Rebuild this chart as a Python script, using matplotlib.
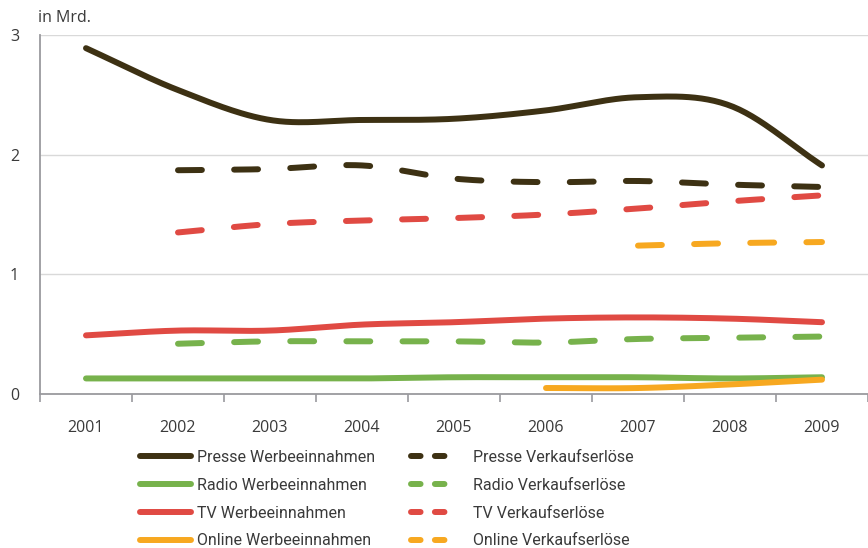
import matplotlib.pyplot as plt
from matplotlib.lines import Line2D
import numpy as np

plt.rcParams['font.family'] = ['Open Sans', 'DejaVu Sans']

years = ['2001', '2002', '2003', '2004', '2005', '2006', '2007', '2008', '2009']

# values in Mrd.; None = no data
presse_werbe = [2.89, 2.54, 2.29, 2.29, 2.30, 2.37, 2.48, 2.41, 1.91]
presse_verkauf = [None, 1.87, 1.88, 1.91, 1.80, 1.77, 1.78, 1.75, 1.73]
radio_werbe = [0.13, 0.13, 0.13, 0.13, 0.14, 0.14, 0.14, 0.13, 0.14]
radio_verkauf = [None, 0.42, 0.44, 0.44, 0.44, 0.43, 0.46, 0.47, 0.48]
tv_werbe = [0.49, 0.53, 0.53, 0.58, 0.60, 0.63, 0.64, 0.63, 0.60]
tv_verkauf = [None, 1.35, 1.42, 1.45, 1.47, 1.50, 1.55, 1.61, 1.66]
online_werbe = [None, None, None, None, None, 0.05, 0.05, 0.08, 0.12]
online_verkauf = [None, None, None, None, None, None, 1.24, 1.26, 1.27]

c_presse = '#3d3113'
c_radio = '#77b24c'
c_tv = '#e04a43'
c_online = '#f7a820'
text_col = '#3a3a3a'
axis_col = '#9a9a9e'


def smooth(vals, n=30):
    # catmull-rom spline through the given points, for drawing only
    pts = [(i, v) for i, v in enumerate(vals) if v is not None]
    x = np.array([p[0] for p in pts], float)
    y = np.array([p[1] for p in pts], float)
    if len(x) < 3:
        return x, y
    px = np.concatenate([[2 * x[0] - x[1]], x, [2 * x[-1] - x[-2]]])
    py = np.concatenate([[2 * y[0] - y[1]], y, [2 * y[-1] - y[-2]]])
    xs, ys = [], []
    t = np.linspace(0, 1, n)
    for k in range(1, len(px) - 2):
        for arr, out in ((px, xs), (py, ys)):
            p0, p1, p2, p3 = arr[k - 1], arr[k], arr[k + 1], arr[k + 2]
            out.extend(0.5 * (2 * p1 + (-p0 + p2) * t
                              + (2 * p0 - 5 * p1 + 4 * p2 - p3) * t ** 2
                              + (-p0 + 3 * p1 - 3 * p2 + p3) * t ** 3))
    return np.array(xs), np.array(ys)


fig = plt.figure(figsize=(8.68, 5.48), dpi=100)
ax = fig.add_axes([40 / 868, 154 / 548, 828 / 868, 359 / 548])

lw = 4.3
series = [
    (presse_werbe, c_presse, '-'), (presse_verkauf, c_presse, '--'),
    (radio_werbe, c_radio, '-'), (radio_verkauf, c_radio, '--'),
    (tv_werbe, c_tv, '-'), (tv_verkauf, c_tv, '--'),
    (online_werbe, c_online, '-'), (online_verkauf, c_online, '--'),
]
for vals, col, ls in series:
    xs, ys = smooth(vals)
    if ls == '-':
        ax.plot(xs, ys, color=col, lw=lw, solid_capstyle='round', zorder=3)
    else:
        ax.plot(xs, ys, color=col, lw=lw, dashes=(4.0, 5.4),
                dash_capstyle='round', zorder=3)

ax.set_xlim(-0.5, 8.5)
ax.set_ylim(0, 3)
ax.set_yticks([0, 1, 2, 3])
ax.set_xticks(range(len(years)))
ax.set_xticklabels(years)
ax.set_xticks(np.arange(-0.5, 8.6, 1), minor=True)
ax.tick_params(axis='x', which='major', length=0, pad=19, labelsize=11.5, labelcolor=text_col)
ax.tick_params(axis='x', which='minor', length=6, width=1.2, color=axis_col, direction='out')
ax.tick_params(axis='y', length=0, pad=15, labelsize=11.5, labelcolor=text_col)

ax.grid(axis='y', color='#d9d9d9', lw=1)
ax.set_axisbelow(True)
for s in ['top', 'right']:
    ax.spines[s].set_visible(False)
ax.spines['left'].set_color(axis_col)
ax.spines['bottom'].set_color(axis_col)
ax.spines['left'].set_linewidth(1.3)
ax.spines['bottom'].set_linewidth(1.3)

fig.text(38 / 868, 1 - 18 / 548, 'in Mrd.', fontsize=11.5, color=text_col, va='center', ha='left')

names = ['Presse', 'Radio', 'TV', 'Online']
cols = [c_presse, c_radio, c_tv, c_online]
h_solid = [Line2D([], [], color=c, lw=lw, solid_capstyle='round') for c in cols]
h_dash = [Line2D([], [], color=c, lw=lw, dashes=(1.6, 2.4), dash_capstyle='round') for c in cols]

leg_kw = dict(frameon=False, labelcolor=text_col, borderaxespad=0,
              borderpad=0, labelspacing=0.8, loc='upper left',
              prop={'family': ['Roboto', 'DejaVu Sans'], 'size': 11.5})
fig.legend(h_solid, [n + ' Werbeeinnahmen' for n in names],
           bbox_to_anchor=(140 / 868, 1 - 450 / 548), handlelength=3.2,
           handletextpad=0.35, **leg_kw)
fig.legend(h_dash, [n + ' Verkaufserlöse' for n in names],
           bbox_to_anchor=(411 / 868, 1 - 450 / 548), handlelength=2.8,
           handletextpad=1.1, **leg_kw)

fig.savefig('out.png', dpi=100)
